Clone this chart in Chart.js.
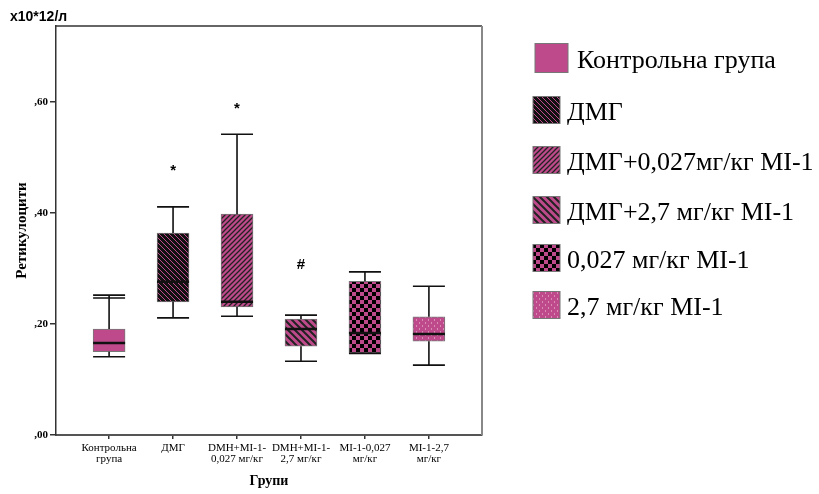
<!DOCTYPE html>
<html>
<head>
<meta charset="utf-8">
<script src="https://cdn.jsdelivr.net/npm/chart.js@4/dist/chart.umd.min.js"></script>
<style>
  html, body { margin: 0; padding: 0; background: #fff; }
  #wrap { width: 819px; height: 494px; position: relative; }
</style>
</head>
<body>
<div id="wrap"><canvas id="mycanvas"></canvas></div>
<script>
// categories and box-plot values (x10*12/л)
var groups = [
  ["Контрольна", "група"],
  ["ДМГ"],
  ["DMH+MI-1-", "0,027 мг/кг"],
  ["DMH+MI-1-", "2,7 мг/кг"],
  ["MI-1-0,027", "мг/кг"],
  ["MI-1-2,7", "мг/кг"]
];
var legendLabels = [
  "Контрольна група",
  "ДМГ",
  "ДМГ+0,027мг/кг МІ-1",
  "ДМГ+2,7 мг/кг МІ-1",
  "0,027 мг/кг МІ-1",
  "2,7 мг/кг МІ-1"
];
var whiskerLow  = [0.141, 0.211, 0.214, 0.133, 0.147, 0.126];
var q1          = [0.150, 0.240, 0.231, 0.160, 0.148, 0.169];
var median      = [0.166, 0.276, 0.240, 0.191, 0.184, 0.182];
var q3          = [0.191, 0.364, 0.398, 0.209, 0.277, 0.213];
var whiskerHigh = [0.252, 0.411, 0.542, 0.216, 0.294, 0.268];
var extraCap    = [0.247, null, null, null, null, null];
var marks       = ["", "*", "*", "#", "", ""];
var markValues  = [null, 0.481, 0.593, 0.306, null, null];
var yTicks      = [0, 0.2, 0.4, 0.6];

var PINK = "#bf4a8b";

function makePattern(kind) {
  var c = document.createElement("canvas");
  var g = c.getContext("2d");
  var s = 6;
  if (kind === "solid") return PINK;
  if (kind === "darkdiag") {
    s = 5; c.width = s; c.height = s;
    g.fillStyle = "#111"; g.fillRect(0, 0, s, s);
    g.strokeStyle = PINK; g.lineWidth = 1;
    g.beginPath();
    g.moveTo(-1, -1); g.lineTo(s + 1, s + 1);
    g.moveTo(-1, s - 1); g.lineTo(1, s + 1);
    g.moveTo(s - 1, -1); g.lineTo(s + 1, 1);
    g.stroke();
  } else if (kind === "fwd") {
    s = 5; c.width = s; c.height = s;
    g.fillStyle = PINK; g.fillRect(0, 0, s, s);
    g.strokeStyle = "#222"; g.lineWidth = 1.3;
    g.beginPath();
    g.moveTo(-1, s + 1); g.lineTo(s + 1, -1);
    g.moveTo(-1, 1); g.lineTo(1, -1);
    g.moveTo(s - 1, s + 1); g.lineTo(s + 1, s - 1);
    g.stroke();
  } else if (kind === "back") {
    s = 7; c.width = s; c.height = s;
    g.fillStyle = PINK; g.fillRect(0, 0, s, s);
    g.strokeStyle = "#222"; g.lineWidth = 2;
    g.beginPath();
    g.moveTo(-1, -1); g.lineTo(s + 1, s + 1);
    g.moveTo(-1, s - 1); g.lineTo(1, s + 1);
    g.moveTo(s - 1, -1); g.lineTo(s + 1, 1);
    g.stroke();
  } else if (kind === "checker") {
    s = 8; c.width = s; c.height = s;
    g.fillStyle = PINK; g.fillRect(0, 0, s, s);
    g.fillStyle = "#000";
    g.fillRect(0, 0, 4, 4); g.fillRect(4, 4, 4, 4);
  } else if (kind === "dots") {
    s = 6; c.width = s; c.height = s;
    g.fillStyle = PINK; g.fillRect(0, 0, s, s);
    g.fillStyle = "#d98cb4";
    g.fillRect(2, 1, 1, 2); g.fillRect(5, 4, 1, 2);
  }
  return document.createElement("canvas").getContext("2d").createPattern(c, "repeat");
}

var fills = ["solid", "darkdiag", "fwd", "back", "checker", "dots"].map(makePattern);

var boxData = [];
for (var i in groups) {
  boxData.push({ x: Number(i), y: [q1[i], q3[i]] });
}

var boxPlot = {
  id: "boxPlot",
  afterDatasetsDraw: function(chart) {
    var ctx = chart.ctx;
    var xs = chart.scales.x, ys = chart.scales.y;
    var half = 16;
    ctx.save();
    ctx.strokeStyle = "#111";
    for (var i = 0; i < groups.length; i++) {
      var x = xs.getPixelForValue(i);
      var yTop = ys.getPixelForValue(q3[i]);
      var yBot = ys.getPixelForValue(q1[i]);
      var yHi = ys.getPixelForValue(whiskerHigh[i]);
      var yLo = ys.getPixelForValue(whiskerLow[i]);
      ctx.lineWidth = 1.6;
      ctx.beginPath();
      ctx.moveTo(x, yTop); ctx.lineTo(x, yHi);
      ctx.moveTo(x - half, yHi); ctx.lineTo(x + half, yHi);
      ctx.moveTo(x, yBot); ctx.lineTo(x, yLo);
      ctx.moveTo(x - half, yLo); ctx.lineTo(x + half, yLo);
      if (extraCap[i] !== null) {
        var yE = ys.getPixelForValue(extraCap[i]);
        ctx.moveTo(x - half, yE); ctx.lineTo(x + half, yE);
      }
      ctx.stroke();
      ctx.lineWidth = 2.5;
      var yM = ys.getPixelForValue(median[i]);
      ctx.beginPath();
      ctx.moveTo(x - half, yM); ctx.lineTo(x + half, yM);
      ctx.stroke();
      if (marks[i]) {
        ctx.fillStyle = "#000";
        ctx.font = "bold 15px 'Liberation Sans'";
        ctx.textAlign = "center";
        ctx.textBaseline = "middle";
        ctx.fillText(marks[i], x, ys.getPixelForValue(markValues[i]) + (marks[i] === "*" ? 3 : 0));
      }
    }
    ctx.restore();
  },
  afterDraw: function(chart) {
    var ctx = chart.ctx, a = chart.chartArea;
    ctx.save();
    // frame top/right
    ctx.strokeStyle = "#333"; ctx.lineWidth = 1.5;
    ctx.beginPath();
    ctx.moveTo(a.left, a.top); ctx.lineTo(a.right, a.top);
    ctx.stroke();
    ctx.strokeStyle = "#888"; ctx.lineWidth = 2;
    ctx.beginPath();
    ctx.moveTo(a.right, a.top); ctx.lineTo(a.right, a.bottom);
    ctx.stroke();
    // unit label
    ctx.fillStyle = "#000";
    ctx.font = "bold 14px 'Liberation Sans'";
    ctx.textAlign = "left"; ctx.textBaseline = "middle";
    ctx.fillText("x10*12/л", 10, 17);
    // legend
    var rows = [58, 110, 160, 210, 258, 305];
    ctx.font = "26px 'Liberation Serif'";
    for (var i = 0; i < legendLabels.length; i++) {
      var w = i === 0 ? 33 : 27, h = i === 0 ? 29 : 27;
      var bx = i === 0 ? 535 : 533;
      ctx.fillStyle = fills[i];
      ctx.fillRect(bx, rows[i] - h / 2, w, h);
      ctx.strokeStyle = "#777"; ctx.lineWidth = 1;
      ctx.strokeRect(bx, rows[i] - h / 2, w, h);
      ctx.fillStyle = "#000";
      ctx.fillText(legendLabels[i], i === 0 ? 577 : 567, rows[i] + 3);
    }
    ctx.restore();
  }
};

var ctx = document.getElementById("mycanvas");
var boxChart = new Chart(ctx, {
  type: "bar",
  data: {
    datasets: [{
      data: boxData,
      backgroundColor: fills,
      borderColor: "#777",
      borderWidth: 1,
      borderSkipped: false,
      barThickness: 32
    }]
  },
  options: {
    responsive: true,
    maintainAspectRatio: false,
    animation: false,
    layout: { padding: { top: 26, right: 337, left: 0, bottom: 0 } },
    plugins: { legend: { display: false }, tooltip: { enabled: false } },
    scales: {
      x: {
        type: "linear",
        min: -0.83,
        max: 5.83,
        offset: false,
        afterBuildTicks: function(scale) {
          scale.ticks = groups.map(function(g, i) { return { value: i }; });
        },
        afterFit: function(scale) { scale.height = 59; },
        grid: { offset: false, drawOnChartArea: false, tickLength: 4, color: "#333", lineWidth: 1.5 },
        border: { color: "#555", width: 2 },
        ticks: {
          autoSkip: false,
          maxRotation: 0,
          padding: 4,
          color: "#000",
          font: { family: "'Liberation Serif'", size: 11, lineHeight: 1.0 },
          callback: function(v) { return groups[v]; }
        },
        title: {
          display: true,
          text: "Групи",
          color: "#000",
          font: { family: "'Liberation Serif'", size: 14, weight: "bold" },
          padding: { top: 0, bottom: 4 }
        }
      },
      y: {
        min: 0,
        max: 0.737,
        afterBuildTicks: function(scale) {
          scale.ticks = yTicks.map(function(v) { return { value: v }; });
        },
        afterFit: function(scale) { scale.width = 56; },
        grid: { drawOnChartArea: false, tickLength: 6, color: "#333", lineWidth: 1.5 },
        border: { color: "#333", width: 1.5 },
        ticks: {
          padding: 2,
          color: "#000",
          font: { family: "'Liberation Serif'", size: 11, weight: "bold" },
          callback: function(v) { return v.toFixed(2).replace("0.", ","); }
        },
        title: {
          display: true,
          text: "Ретикулоцити",
          color: "#000",
          font: { family: "'Liberation Serif'", size: 15, weight: "bold" },
          padding: { top: 13, bottom: 0 }
        }
      }
    }
  },
  plugins: [boxPlot]
});
</script>
</body>
</html>
